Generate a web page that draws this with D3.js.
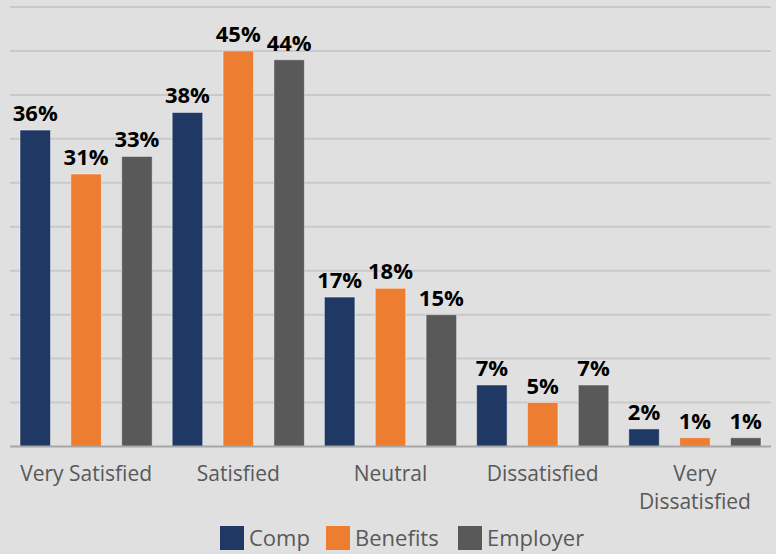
<!DOCTYPE html>
<html>
<head>
<meta charset="utf-8">
<script src="https://cdn.jsdelivr.net/npm/d3@7"></script>
<style>
  html, body { margin: 0; padding: 0; background: #e0e0e0; }
  svg { display: block; }
</style>
</head>
<body>
<svg id="chart" width="776" height="554"></svg>
<script>
// Satisfaction levels by area
const categories = ["Very Satisfied", "Satisfied", "Neutral", "Dissatisfied", "Very Dissatisfied"];
const seriesNames = ["Comp", "Benefits", "Employer"];
const comp = [36, 38, 17, 7, 2];
const benefits = [31, 45, 18, 5, 1];
const employer = [33, 44, 15, 7, 1];
const yTicks = [0, 5, 10, 15, 20, 25, 30, 35, 40, 45, 50];

const colors = { Comp: "#1f3864", Benefits: "#ed7d31", Employer: "#595959" };
const seriesValues = { Comp: comp, Benefits: benefits, Employer: employer };

const svg = d3.select("#chart");
const W = 776, H = 554;
const plot = { left: 10, right: 771, top: 7, bottom: 446.5 };

const x0 = d3.scaleBand().domain(categories).range([plot.left, plot.right]).paddingInner(0).paddingOuter(0);
const groupPad = 10;
const x1 = d3.scaleBand().domain(seriesNames)
  .range([groupPad, x0.bandwidth() - groupPad])
  .paddingInner(0.4).paddingOuter(0);
const y = d3.scaleLinear().domain([0, 50]).range([plot.bottom, plot.top]);

svg.append("rect").attr("width", W).attr("height", H).attr("fill", "#e0e0e0");

// Horizontal gridlines
svg.append("g").selectAll("line").data(yTicks.filter(t => t > 0)).join("line")
  .attr("x1", plot.left).attr("x2", plot.right)
  .attr("y1", d => y(d)).attr("y2", d => y(d))
  .attr("stroke", "#c9c9c9").attr("stroke-width", 2);

// Bars
const groups = svg.append("g").selectAll("g").data(categories).join("g")
  .attr("transform", d => `translate(${x0(d)},0)`);

groups.selectAll("rect").data((c, i) => seriesNames.map(s => ({ s, v: seriesValues[s][i] }))).join("rect")
  .attr("x", d => x1(d.s))
  .attr("width", x1.bandwidth())
  .attr("y", d => y(d.v))
  .attr("height", d => y(0) - y(d.v))
  .attr("fill", d => colors[d.s])
  .attr("stroke", "rgba(255,255,255,0.45)")
  .attr("stroke-width", 1);

// Baseline
svg.append("line")
  .attr("x1", plot.left).attr("x2", plot.right)
  .attr("y1", y(0)).attr("y2", y(0))
  .attr("stroke", "#a6a6a6").attr("stroke-width", 2);

// Value labels
groups.selectAll("text.val").data((c, i) => seriesNames.map(s => ({ s, v: seriesValues[s][i] }))).join("text")
  .attr("class", "val")
  .attr("x", d => x1(d.s) + x1.bandwidth() / 2)
  .attr("y", d => y(d.v) - 9)
  .attr("text-anchor", "middle")
  .attr("font-family", "'Open Sans', sans-serif")
  .attr("font-weight", "bold")
  .attr("font-size", 22)
  .attr("fill", "#000")
  .text(d => d.v + "%");

// Category axis labels
const xAxis = d3.axisBottom(x0).tickSize(0).tickPadding(0);
const ax = svg.append("g").attr("transform", `translate(0,${plot.bottom})`).call(xAxis);
ax.select(".domain").remove();
ax.selectAll(".tick text").remove();
ax.selectAll(".tick").each(function (d) {
  const g = d3.select(this);
  const words = d === "Very Dissatisfied" ? ["Very", "Dissatisfied"] : [d];
  const t = g.append("text")
    .attr("text-anchor", "middle")
    .attr("font-family", "'Open Sans', sans-serif")
    .attr("font-size", 21)
    .attr("fill", "#595959");
  words.forEach((w, i) => {
    t.append("tspan").attr("x", 0).attr("y", 34 + i * 28).text(w);
  });
});

// Legend
const legendItems = [
  { s: "Comp", x: 220 },
  { s: "Benefits", x: 326 },
  { s: "Employer", x: 458 }
];
const lg = svg.append("g").selectAll("g").data(legendItems).join("g")
  .attr("transform", d => `translate(${d.x},526)`);
lg.append("rect").attr("width", 24).attr("height", 24).attr("fill", d => colors[d.s]);
lg.append("text")
  .attr("x", 29).attr("y", 20)
  .attr("font-family", "'Open Sans', sans-serif")
  .attr("font-size", 22)
  .attr("fill", "#595959")
  .text(d => d.s);
</script>
</body>
</html>
